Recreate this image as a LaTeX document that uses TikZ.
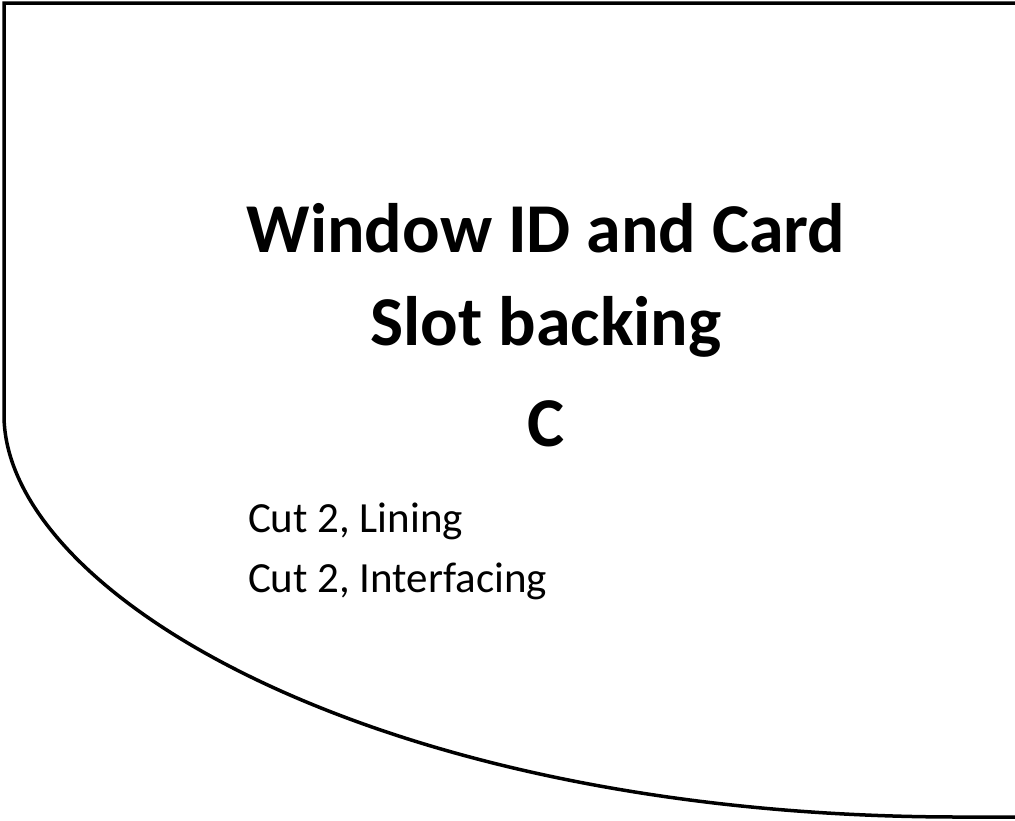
\documentclass[tikz,border=0pt]{standalone}
\usepackage{fontspec}
\setmainfont{Carlito}

\begin{document}
\begin{tikzpicture}[x=1pt,y=-1pt,
    every node/.style={inner sep=0,outer sep=0},
    title/.style={anchor=base,font=\fontsize{70}{84}\selectfont\bfseries},
    note/.style={anchor=base west,font=\fontsize{43}{52}\selectfont}]
    \clip (0,0) rectangle (1015,820);
    \draw[line width=3.5pt] (1030,3) -- (4,3) -- (4,415)
        .. controls (4,595) and (380,817) .. (960,817) -- (1030,817);
    \node[title] (t1) at (546,252) {Window ID and Card};
    \node[title] (t2) at (546,345) {Slot backing};
    \node[title] (t3) at (546,446) {C};
    \node[note]  (n1) at (248,532) {Cut 2, Lining};
    \node[note]  (n2) at (248,592) {Cut 2, Interfacing};
\end{tikzpicture}
\end{document}
